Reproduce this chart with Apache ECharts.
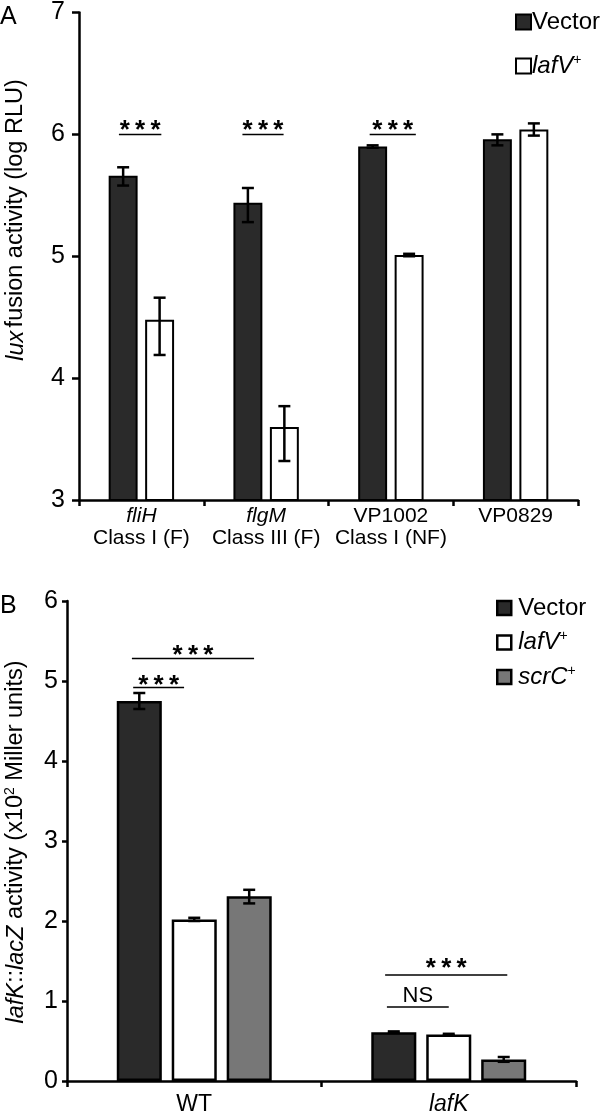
<!DOCTYPE html>
<html>
<head>
<meta charset="utf-8">
<script src="https://cdn.jsdelivr.net/npm/echarts@6/dist/echarts.min.js"></script>
<style>html,body{margin:0;padding:0;background:#fff}#c{width:600px;height:1116px}</style>
</head>
<body>
<div id="c"></div>
<script>
// ---------- Panel A data ----------
const topGenes = ['fliH', 'flgM', 'VP1002', 'VP0829'];
const topGeneItalic = [true, true, false, false];
const topClasses = ['Class I (F)', 'Class III (F)', 'Class I (NF)', ''];
const topVector = [5.66, 5.44, 5.90, 5.96];
const topVectorLow = [5.58, 5.28, 5.89, 5.91];
const topVectorHigh = [5.73, 5.56, 5.91, 6.00];
const topLafV = [4.48, 3.60, 5.01, 6.04];
const topLafVLow = [4.19, 3.32, 5.00, 5.99];
const topLafVHigh = [4.66, 3.77, 5.02, 6.09];
const topYTicks = [3, 4, 5, 6, 7];
// significance marks: category, start/end (fraction of category), line value, text value, label
const topSigCat = [0, 1, 2];
const topSigX0 = [0.32, 0.31, 0.33];
const topSigX1 = [0.66, 0.64, 0.70];
const topSigY = [6.0, 6.0, 6.0];
const topSigTextY = [6.04, 6.04, 6.04];
const topSigLabel = ['***', '***', '***'];

// ---------- Panel B data ----------
const botCats = ['WT', 'lafK'];
const botCatItalic = [false, true];
const botVector = [4.75, 0.61];
const botVectorLow = [4.65, 0.60];
const botVectorHigh = [4.85, 0.62];
const botLafV = [2.02, 0.58];
const botLafVLow = [2.00, 0.57];
const botLafVHigh = [2.04, 0.59];
const botScrC = [2.31, 0.27];
const botScrCLow = [2.22, 0.24];
const botScrCHigh = [2.39, 0.30];
const botYTicks = [0, 1, 2, 3, 4, 5, 6];
const botSigCat = [0, 0, 1, 1];
const botSigX0 = [0.26, 0.255, 0.25, 0.257];
const botSigX1 = [0.46, 0.735, 0.73, 0.50];
const botSigY = [4.92, 5.28, 1.325, 0.925];
const botSigTextY = [4.95, 5.33, 1.415, 1.06];
const botSigLabel = ['***', '***', '***', 'NS'];

const FONT = "'Liberation Sans', Arial, Helvetica, sans-serif";
const DARK = '#2a2a2a', GREY = '#777777', WHITE = '#ffffff';

function rich(size) {
  return {
    n: {fontFamily: FONT, fontSize: size, color: '#000'},
    i: {fontFamily: FONT, fontSize: size, fontStyle: 'italic', color: '#000'},
    sup: {fontFamily: FONT, fontSize: Math.round(size * 0.6), color: '#000', verticalAlign: 'top', padding: [0, 0, Math.round(size*0.45), 0]}
  };
}
function richFill(size) {
  return {
    n: {fontFamily: FONT, fontSize: size, fill: '#000'},
    i: {fontFamily: FONT, fontSize: size, fontStyle: 'italic', fill: '#000'},
    sup: {fontFamily: FONT, fontSize: Math.round(size * 0.6), fill: '#000', verticalAlign: 'top', padding: [0, 0, Math.round(size*0.45), 0]}
  };
}

function errRender(idx, n, barW, gap, capHalf) {
  const step = barW * (1 + gap);
  const off = (idx - (n - 1) / 2) * step;
  return function (params, api) {
    const c = api.value(0);
    const lo = api.coord([c, api.value(1)]);
    const hi = api.coord([c, api.value(2)]);
    const band = api.size([1, 0])[0];
    const x = lo[0] + off * band;
    const st = {stroke: '#000', lineWidth: 2.5};
    return {type: 'group', children: [
      {type: 'line', shape: {x1: x, y1: lo[1], x2: x, y2: hi[1]}, style: st},
      {type: 'line', shape: {x1: x - capHalf, y1: hi[1], x2: x + capHalf, y2: hi[1]}, style: st},
      {type: 'line', shape: {x1: x - capHalf, y1: lo[1], x2: x + capHalf, y2: lo[1]}, style: st}
    ]};
  };
}

function sigRender(labels, starSize, nsSize) {
  return function (params, api) {
    const c = api.value(0);
    const p = api.coord([c, api.value(3)]);
    const t = api.coord([c, api.value(4)]);
    const band = api.size([1, 0])[0];
    const left = p[0] - band / 2;
    const xa = left + api.value(1) * band;
    const xb = left + api.value(2) * band;
    const lab = labels[params.dataIndex];
    const isStar = lab === '***';
    return {type: 'group', children: [
      {type: 'line', shape: {x1: xa, y1: p[1], x2: xb, y2: p[1]}, style: {stroke: '#000', lineWidth: 1.5}},
      {type: 'text', x: (xa + xb) / 2, y: isStar ? t[1] + 1 : t[1], style: {
        text: isStar ? '*\u2009*\u2009*' : lab, fill: '#000', fontFamily: FONT,
        fontSize: isStar ? starSize : nsSize, fontWeight: isStar ? 'bold' : 'normal',
        align: 'center', verticalAlign: 'middle'}}
    ]};
  };
}

const errData = (lo, hi) => lo.map((v, i) => [i, v, hi[i]]);
const sigData = (cat, x0, x1, y, ty) => cat.map((c, i) => [c, x0[i], x1[i], y[i], ty[i]]);

const TOP_BW = 0.232, TOP_GAP = 0.26;
const BOT_BW = 0.177, BOT_GAP = 0.22;

const axisLineStyle = {color: '#000', width: 2.5};

const option = {
  animation: false,
  backgroundColor: '#fff',
  grid: [
    {left: 79, right: 22, top: 11, bottom: 616},
    {left: 67, right: 24, top: 601, bottom: 34}
  ],
  xAxis: [
    {type: 'category', gridIndex: 0, data: topGenes,
      axisLine: {lineStyle: axisLineStyle},
      axisTick: {show: true, length: 6, lineStyle: {width: 2.5, color: '#000'}},
      axisLabel: {margin: 5, interval: 0, lineHeight: 22,
        formatter: (v, i) => (topGeneItalic[i] ? '{i|' + v + '}' : '{n|' + v + '}') + (topClasses[i] ? '\n{n|' + topClasses[i] + '}' : ''),
        rich: rich(21)}},
    {type: 'category', gridIndex: 1, data: botCats,
      axisLine: {lineStyle: axisLineStyle},
      axisTick: {show: true, length: 6, lineStyle: {width: 2.5, color: '#000'}},
      axisLabel: {margin: 12, interval: 0,
        formatter: (v, i) => botCatItalic[i] ? '{i|' + v + '}' : '{n|' + v + '}',
        rich: rich(23)}}
  ],
  yAxis: [
    {type: 'value', gridIndex: 0, min: topYTicks[0], max: topYTicks[topYTicks.length - 1], interval: 1,
      axisLine: {show: true, lineStyle: axisLineStyle},
      axisTick: {show: true, length: 7, lineStyle: {width: 2.5, color: '#000'}},
      splitLine: {show: false},
      axisLabel: {margin: 14, fontFamily: FONT, fontSize: 25, color: '#000'}},
    {type: 'value', gridIndex: 1, min: botYTicks[0], max: botYTicks[botYTicks.length - 1], interval: 1,
      axisLine: {show: true, lineStyle: axisLineStyle},
      axisTick: {show: true, length: 5, lineStyle: {width: 2.5, color: '#000'}},
      splitLine: {show: false},
      axisLabel: {margin: 9, fontFamily: FONT, fontSize: 25, color: '#000'}}
  ],
  legend: [
    {data: ['Vector', 'lafV+'], orient: 'vertical', left: 510, top: 4, itemGap: 18,
      icon: 'rect', itemWidth: 15, itemHeight: 15, itemStyle: {borderColor: '#000', borderWidth: 2},
      selectedMode: false,
      formatter: n => n === 'Vector' ? '{n|Vector}' : '{i|lafV}{sup|+}',
      textStyle: {lineHeight: 26, padding: [0, 0, 0, -4], rich: rich(24)}},
    {data: ['Vector', 'lafV+', 'scrC+'], orient: 'vertical', left: 491, top: 590, itemGap: 8.5,
      icon: 'rect', itemWidth: 14, itemHeight: 14, itemStyle: {borderColor: '#000', borderWidth: 2.5},
      selectedMode: false,
      formatter: n => n === 'Vector' ? '{n|Vector}' : (n === 'lafV+' ? '{i|lafV}{sup|+}' : '{i|scrC}{sup|+}'),
      textStyle: {lineHeight: 26, padding: [0, 0, 0, 2], rich: rich(24)}}
  ],
  graphic: [
    {type: 'text', left: 0, top: 5, style: {text: 'A', fontFamily: FONT, fontSize: 25, fill: '#000'}},
    {type: 'text', left: 0, top: 594, style: {text: 'B', fontFamily: FONT, fontSize: 25, fill: '#000'}},
    {type: 'text', x: 16, y: 220, rotation: Math.PI / 2,
      style: {text: '{i|lux} {n|fusion activity (log RLU)}', rich: richFill(23.5), align: 'center', verticalAlign: 'middle'}},
    {type: 'text', x: 16, y: 842, rotation: Math.PI / 2,
      style: {text: '{i|lafK}{n|::}{i|lacZ}{n| activity (x10}{sup|2}{n| Miller units)}', rich: richFill(23.5), align: 'center', verticalAlign: 'middle'}}
  ],
  series: [
    {name: 'Vector', type: 'bar', xAxisIndex: 0, yAxisIndex: 0, data: topVector, barWidth: (TOP_BW * 100) + '%', barGap: (TOP_GAP * 100) + '%',
      itemStyle: {color: DARK, borderColor: '#000', borderWidth: 2}},
    {name: 'lafV+', type: 'bar', xAxisIndex: 0, yAxisIndex: 0, data: topLafV, barWidth: (TOP_BW * 100) + '%', barGap: (TOP_GAP * 100) + '%',
      itemStyle: {color: WHITE, borderColor: '#000', borderWidth: 2}},
    {type: 'custom', xAxisIndex: 0, yAxisIndex: 0, data: errData(topVectorLow, topVectorHigh), encode: {x: 0, y: [1, 2]},
      renderItem: errRender(0, 2, TOP_BW, TOP_GAP, 6), z: 5},
    {type: 'custom', xAxisIndex: 0, yAxisIndex: 0, data: errData(topLafVLow, topLafVHigh), encode: {x: 0, y: [1, 2]},
      renderItem: errRender(1, 2, TOP_BW, TOP_GAP, 6), z: 5},
    {type: 'custom', xAxisIndex: 0, yAxisIndex: 0, data: sigData(topSigCat, topSigX0, topSigX1, topSigY, topSigTextY), encode: {x: 0, y: [3, 4]},
      renderItem: sigRender(topSigLabel, 26, 22), z: 5},

    {name: 'Vector', type: 'bar', xAxisIndex: 1, yAxisIndex: 1, data: botVector, barWidth: (BOT_BW * 100) + '%', barGap: (BOT_GAP * 100) + '%',
      itemStyle: {color: DARK, borderColor: '#000', borderWidth: 2.5}},
    {name: 'lafV+', type: 'bar', xAxisIndex: 1, yAxisIndex: 1, data: botLafV, barWidth: (BOT_BW * 100) + '%', barGap: (BOT_GAP * 100) + '%',
      itemStyle: {color: WHITE, borderColor: '#000', borderWidth: 2.5}},
    {name: 'scrC+', type: 'bar', xAxisIndex: 1, yAxisIndex: 1, data: botScrC, barWidth: (BOT_BW * 100) + '%', barGap: (BOT_GAP * 100) + '%',
      itemStyle: {color: GREY, borderColor: '#000', borderWidth: 2.5}},
    {type: 'custom', xAxisIndex: 1, yAxisIndex: 1, data: errData(botVectorLow, botVectorHigh), encode: {x: 0, y: [1, 2]},
      renderItem: errRender(0, 3, BOT_BW, BOT_GAP, 6), z: 5},
    {type: 'custom', xAxisIndex: 1, yAxisIndex: 1, data: errData(botLafVLow, botLafVHigh), encode: {x: 0, y: [1, 2]},
      renderItem: errRender(1, 3, BOT_BW, BOT_GAP, 6), z: 5},
    {type: 'custom', xAxisIndex: 1, yAxisIndex: 1, data: errData(botScrCLow, botScrCHigh), encode: {x: 0, y: [1, 2]},
      renderItem: errRender(2, 3, BOT_BW, BOT_GAP, 6), z: 5},
    {type: 'custom', xAxisIndex: 1, yAxisIndex: 1, data: sigData(botSigCat, botSigX0, botSigX1, botSigY, botSigTextY), encode: {x: 0, y: [3, 4]},
      renderItem: sigRender(botSigLabel, 26, 22), z: 5}
  ]
};

const chart = echarts.init(document.getElementById('c'), null, {renderer: 'canvas'});
chart.setOption(option);
</script>
</body>
</html>
